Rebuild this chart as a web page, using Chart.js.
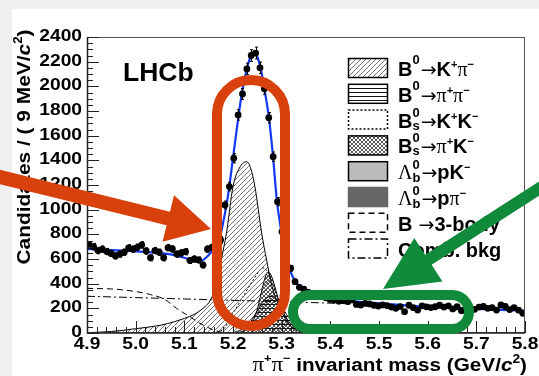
<!DOCTYPE html>
<html>
<head>
<meta charset="utf-8">
<script src="https://cdn.jsdelivr.net/npm/chart.js@4.4.1/dist/chart.umd.min.js"></script>
<style>
  html, body { margin: 0; padding: 0; background: #efefef; overflow: hidden; }
  canvas { display: block; }
</style>
</head>
<body>
<canvas id="massPlot" width="539" height="376"></canvas>
<script>
// pi+ pi- invariant mass, candidates per 9 MeV bin starting at 4.9 GeV
const binStart = 4.9;
const binWidth = 0.009;
const counts = [
  714, 700, 668, 680, 660, 645, 625, 640, 655, 690,
  680, 695, 714, 665, 610, 668, 655, 610, 692, 681,
  640, 649, 659, 588, 600, 592, 551, 680, 695, 720,
  754, 1038, 1187, 1417, 1768, 1938, 2141, 2250, 2270, 2150,
  1980, 1746, 1430, 1065, 820, 640, 525, 416, 370, 355,
  330, 310, 300, 295, 285, 272, 268, 258, 262, 255,
  268, 232, 227, 240, 236, 225, 219, 228, 222, 210,
  200, 214, 173, 225, 205, 186, 220, 212, 206, 213,
  225, 210, 220, 195, 213, 181, 200, 205, 192, 210,
  215, 200, 205, 186, 227, 215, 190, 205, 186, 160
];

// total fit (blue)
const fitMass = [4.90, 4.95, 5.00, 5.05, 5.08, 5.10, 5.115, 5.125, 5.135, 5.145,
  5.155, 5.165, 5.172, 5.18, 5.19, 5.20, 5.21, 5.218, 5.229, 5.237,
  5.243, 5.249, 5.256, 5.264, 5.274, 5.282, 5.29, 5.297, 5.305, 5.313,
  5.321, 5.33, 5.338, 5.348, 5.36, 5.38, 5.41, 5.45, 5.50, 5.55,
  5.60, 5.65, 5.70, 5.75, 5.80];
const fitTotal = [681, 672, 662, 648, 632, 610, 590, 578, 584, 612,
  655, 705, 760, 900, 1120, 1420, 1720, 1940, 2150, 2250,
  2280, 2250, 2160, 1990, 1740, 1440, 1080, 880, 690, 560,
  470, 410, 370, 340, 315, 290, 268, 256, 240, 226,
  213, 204, 196, 188, 181];

// fit components
const kpiMass = [4.90, 4.95, 5.00, 5.05, 5.08, 5.10, 5.12, 5.14, 5.15, 5.16, 5.17, 5.176, 5.1865, 5.20,
  5.215, 5.228, 5.236, 5.245, 5.259, 5.269, 5.28, 5.29, 5.30, 5.31, 5.32, 5.34, 5.37, 5.40];
const kpi = [3, 12, 35, 62, 92, 118, 150, 205, 245, 320, 440, 592, 808, 1187,
  1350, 1389, 1340, 1187, 808, 592, 380, 260, 170, 100, 55, 18, 4, 0];
const pipiMass = [5.20, 5.23, 5.25, 5.265, 5.28, 5.295, 5.31, 5.33, 5.36, 5.40];
const pipi = [0, 60, 180, 270, 300, 250, 150, 60, 10, 0];
const kkMass = [5.15, 5.18, 5.20, 5.22, 5.24, 5.262, 5.275, 5.29, 5.305, 5.32, 5.35, 5.38];
const kk = [0, 30, 160, 290, 420, 527, 470, 300, 150, 50, 5, 0];
const pikMass = [5.20, 5.22, 5.235, 5.245, 5.253, 5.26, 5.266, 5.272, 5.278, 5.285, 5.292, 5.30, 5.31, 5.32, 5.335, 5.35, 5.37];
const pik = [0, 15, 60, 130, 240, 360, 450, 495, 470, 390, 290, 200, 120, 70, 30, 10, 0];
const lbpKMass = [5.30, 5.36, 5.42, 5.48, 5.54, 5.62, 5.70, 5.80];
const lbpK = [0, 8, 14, 16, 12, 6, 2, 0];
const lbppiMass = [5.36, 5.42, 5.48, 5.55, 5.62, 5.70, 5.80];
const lbppi = [0, 4, 7, 8, 5, 2, 0];
const threeBodyMass = [4.90, 4.95, 4.975, 5.00, 5.03, 5.06, 5.084, 5.11, 5.132, 5.15, 5.16, 5.175, 5.19];
const threeBody = [362, 357, 349, 336, 312, 272, 200, 135, 79, 42, 24, 8, 0];
const combMass = [4.90, 5.00, 5.10, 5.20, 5.30, 5.40, 5.50, 5.60, 5.70, 5.80];
const comb = [298, 287, 276, 265, 254, 242, 228, 212, 196, 180];

// axes
const xTicks = [4.9, 5.0, 5.1, 5.2, 5.3, 5.4, 5.5, 5.6, 5.7, 5.8];
const xTickLabels = ['4.9', '5.0', '5.1', '5.2', '5.3', '5.4', '5.5', '5.6', '5.7', '5.8'];
const yTicks = [0, 200, 400, 600, 800, 1000, 1200, 1400, 1600, 1800, 2000, 2200, 2400];

const FB = s => `bold ${s}px "Liberation Sans"`;
const FBI = s => `italic bold ${s}px "Liberation Sans"`;
const FS = s => `${s}px "Liberation Serif"`;
const ARROW = '19px "DejaVu Sans"';

const big = t => ({ t, f: FB(20) });
const greek = t => ({ t, f: FS(20) });
const arr = { t: '→', f: ARROW, gap: 1 };
const sup = (t, dy = -12) => ({ t, f: FB(13), dy });
const sub = (t, dy = 2) => ({ t, f: FB(13), dy, stack: true });
const chg = t => ({ t, f: FB(11), dy: -8 });

const legendEntries = [
  { label: 'B0->Kpi', segs: [big('B'), sup('0'), arr, big('K'), chg('+'), greek('π'), chg('−')] },
  { label: 'B0->pipi', segs: [big('B'), sup('0'), arr, greek('π'), chg('+'), greek('π'), chg('−')] },
  { label: 'Bs->KK', segs: [big('B'), sup('0', -11), sub('s'), arr, big('K'), chg('+'), big('K'), chg('−')] },
  { label: 'Bs->piK', segs: [big('B'), sup('0', -11), sub('s'), arr, greek('π'), chg('+'), big('K'), chg('−')] },
  { label: 'Lb->pK', segs: [greek('Λ'), sup('0', -10), sub('b', 3), arr, big('p'), big('K'), chg('−')] },
  { label: 'Lb->ppi', segs: [greek('Λ'), sup('0', -10), sub('b', 3), arr, big('p'), greek('π'), chg('−')] },
  { label: '3-body', segs: [big('B'), { t: ' →', f: ARROW }, big('3-body')] },
  { label: 'comb', segs: [big('Comb. bkg')] }
];

const canvas = document.getElementById('massPlot');
const ctxMain = canvas.getContext('2d');

function tilePattern(kind) {
  const t = document.createElement('canvas');
  const s = kind === 'horiz' ? 4 : (kind === 'cross' ? 4 : 5);
  t.width = s; t.height = s;
  const g = t.getContext('2d');
  g.strokeStyle = kind === 'diag' ? '#444' : '#111';
  g.lineWidth = kind === 'cross' ? 0.7 : 0.75;
  g.beginPath();
  if (kind === 'diag' || kind === 'cross') {
    g.moveTo(-1, s + 1); g.lineTo(s + 1, -1);
    g.moveTo(-1, 1); g.lineTo(1, -1);
    g.moveTo(s - 1, s + 1); g.lineTo(s + 1, s - 1);
  }
  if (kind === 'cross') {
    g.moveTo(-1, -1); g.lineTo(s + 1, s + 1);
    g.moveTo(s - 1, -1); g.lineTo(s + 1, 1);
    g.moveTo(-1, s - 1); g.lineTo(1, s + 1);
  }
  if (kind === 'horiz') { g.lineWidth = 1; g.moveTo(0, 0.5); g.lineTo(s, 0.5); }
  g.stroke();
  return ctxMain.createPattern(t, 'repeat');
}

const xy = (m, v) => m.map((x, i) => ({ x, y: v[i] }));
const curve = (label, m, v, extra) => Object.assign({
  type: 'line', label, data: xy(m, v), borderColor: '#000', borderWidth: 1,
  pointRadius: 0, fill: false, cubicInterpolationMode: 'monotone'
}, extra);

const datasets = [
  {
    type: 'scatter', label: 'data',
    data: counts.map((c, i) => ({ x: binStart + binWidth * (i + 0.5), y: c })),
    pointRadius: 3.4, pointBackgroundColor: '#000', pointBorderWidth: 0, order: 0
  },
  curve('fit', fitMass, fitTotal, { borderColor: '#1238f2', borderWidth: 2.2, order: 1 }),
  curve('comb', combMass, comb, { borderDash: [8, 3, 2, 3], order: 2 }),
  curve('3-body', threeBodyMass, threeBody, { borderDash: [6, 4], order: 3 }),
  curve('B0->Kpi', kpiMass, kpi, { fill: 'origin', backgroundColor: tilePattern('diag'), order: 4 }),
  curve('Bs->piK', pikMass, pik, { fill: 'origin', backgroundColor: tilePattern('cross'), order: 5 }),
  curve('B0->pipi', pipiMass, pipi, { fill: 'origin', backgroundColor: tilePattern('horiz'), order: 6 }),
  curve('Bs->KK', kkMass, kk, { borderDash: [2, 2], backgroundColor: '#fff', order: 7 }),
  curve('Lb->pK', lbpKMass, lbpK, { fill: 'origin', backgroundColor: '#bbbbbb', order: 8 }),
  curve('Lb->ppi', lbppiMass, lbppi, { fill: 'origin', backgroundColor: '#666666', borderColor: '#666666', order: 9 })
];

function richText(c, segs, x, y, opts = {}) {
  const sx = opts.sx || 1, align = opts.align || 'left';
  c.save();
  c.textBaseline = 'alphabetic';
  c.textAlign = 'left';
  let prevStart = 0, prevEnd = 0;
  const pos = segs.map(s => {
    c.font = s.f;
    const w = c.measureText(s.t).width;
    let px;
    if (s.stack) { px = prevStart; prevEnd = Math.max(prevEnd, px + w); }
    else { px = prevEnd + (s.gap || 0); prevStart = px; prevEnd = px + w; }
    return px;
  });
  const width = prevEnd;
  c.translate(x, y);
  if (opts.rotate) c.rotate(opts.rotate);
  c.scale(sx, 1);
  const off = align === 'right' ? -width : align === 'center' ? -width / 2 : 0;
  segs.forEach((s, i) => {
    c.font = s.f;
    c.fillStyle = '#000';
    c.fillText(s.t, off + pos[i], s.dy || 0);
  });
  c.restore();
}

function roundRectPath(c, x, y, w, h, r) {
  c.beginPath();
  c.moveTo(x + r, y);
  c.arcTo(x + w, y, x + w, y + h, r);
  c.arcTo(x + w, y + h, x, y + h, r);
  c.arcTo(x, y + h, x, y, r);
  c.arcTo(x, y, x + w, y, r);
  c.closePath();
}

function arrow(c, sx, sy, tx, ty, shaft, headLen, headW, color) {
  const dx = tx - sx, dy = ty - sy, L = Math.hypot(dx, dy);
  const ux = dx / L, uy = dy / L, px = -uy, py = ux;
  const bx = tx - ux * headLen, by = ty - uy * headLen;
  c.beginPath();
  c.moveTo(sx + px * shaft / 2, sy + py * shaft / 2);
  c.lineTo(bx + px * shaft / 2, by + py * shaft / 2);
  c.lineTo(bx + px * headW / 2, by + py * headW / 2);
  c.lineTo(tx, ty);
  c.lineTo(bx - px * headW / 2, by - py * headW / 2);
  c.lineTo(bx - px * shaft / 2, by - py * shaft / 2);
  c.lineTo(sx - px * shaft / 2, sy - py * shaft / 2);
  c.closePath();
  c.fillStyle = color;
  c.fill();
}

const rootStyle = {
  id: 'rootStyle',
  beforeDraw(chart) {
    const c = chart.ctx;
    c.save();
    c.fillStyle = '#efefef';
    c.fillRect(0, 0, chart.width, chart.height);
    c.fillStyle = '#ffffff';
    c.fillRect(12, 9, chart.width - 12, chart.height - 9);
    c.restore();
  },
  afterDatasetsDraw(chart) {
    // statistical error bars on the data points
    const c = chart.ctx, xs = chart.scales.x, ys = chart.scales.y;
    c.save();
    c.strokeStyle = '#000';
    c.lineWidth = 1;
    c.beginPath();
    counts.forEach((n, i) => {
      const x = Math.round(xs.getPixelForValue(binStart + binWidth * (i + 0.5))) + 0.5;
      const e = Math.sqrt(n);
      const y1 = ys.getPixelForValue(n + e), y2 = ys.getPixelForValue(n - e);
      c.moveTo(x, y1); c.lineTo(x, y2);
      c.moveTo(x - 1.5, y1); c.lineTo(x + 1.5, y1);
      c.moveTo(x - 1.5, y2); c.lineTo(x + 1.5, y2);
    });
    c.stroke();
    c.restore();
  },
  afterDraw(chart) {
    const c = chart.ctx, a = chart.chartArea, xs = chart.scales.x, ys = chart.scales.y;
    c.save();

    // frame and ticks
    c.strokeStyle = '#555';
    c.lineWidth = 1;
    c.strokeRect(a.left + 0.5, a.top + 0.5, a.right - a.left - 1, a.bottom - a.top - 1);
    c.strokeStyle = '#222';
    c.beginPath();
    for (let v = 0; v <= 2400; v += 50) {
      const y = Math.round(ys.getPixelForValue(v)) + 0.5;
      c.moveTo(a.left, y); c.lineTo(a.left + (v % 200 === 0 ? 12 : 6), y);
    }
    for (let k = 0; k <= 45; k++) {
      const x = Math.round(xs.getPixelForValue(4.9 + k * 0.02)) + 0.5;
      c.moveTo(x, a.bottom); c.lineTo(x, a.bottom - (k % 5 === 0 ? 12 : 6));
    }
    c.stroke();
    c.beginPath();
    c.lineWidth = 1.5;
    c.moveTo(a.left + 0.5, a.top); c.lineTo(a.left + 0.5, a.bottom); c.lineTo(a.right, a.bottom);
    c.stroke();

    // tick labels
    yTicks.forEach(v => richText(c, [{ t: String(v), f: FB(16) }], 82, ys.getPixelForValue(v) + 4, { align: 'right', sx: 1.2 }));
    xTicks.forEach((v, i) => richText(c, [{ t: xTickLabels[i], f: FB(16) }], xs.getPixelForValue(v), 349, { align: 'center', sx: 1.2 }));

    // axis titles
    richText(c, [
      { t: 'Candidates / ( 9 MeV/', f: FB(19) }, { t: 'c', f: FBI(19) },
      { t: '2', f: FB(12), dy: -8 }, { t: ')', f: FB(19) }
    ], 30, 147, { align: 'center', rotate: -Math.PI / 2, sx: 1.1 });
    richText(c, [
      greek('π'), { t: '+', f: FB(11), dy: -9 }, greek('π'), { t: '−', f: FB(11), dy: -9 },
      { t: ' invariant mass (GeV/', f: FB(18) }, { t: 'c', f: FBI(18) },
      { t: '2', f: FB(12), dy: -8 }, { t: ')', f: FB(18) }
    ], 527, 371, { align: 'right', sx: 1.15 });

    richText(c, [{ t: 'LHCb', f: FB(25) }], 123, 81, { sx: 1.06 });

    // legend
    legendEntries.forEach((e, i) => {
      const ds = chart.data.datasets.find(d => d.label === e.label);
      const top = 58 + 25.8 * i;
      c.save();
      c.fillStyle = '#fff';
      c.fillRect(348, top, 40, 20);
      if (ds.fill) { c.fillStyle = ds.backgroundColor; c.fillRect(348, top, 40, 20); }
      c.setLineDash(ds.borderDash || []);
      c.strokeStyle = ds.borderColor;
      c.lineWidth = 1.5;
      c.strokeRect(348.5, top + 0.5, 39, 19);
      c.restore();
      richText(c, e.segs, 398, top + 18);
    });

    // highlight annotations
    c.lineWidth = 10;
    c.strokeStyle = '#d8400c';
    roundRectPath(c, 217, 80, 68, 246, 34);
    c.stroke();
    arrow(c, -20, 172, 211, 229, 14, 44, 48, '#d8400c');
    c.strokeStyle = '#118a3b';
    roundRectPath(c, 293, 295, 176, 34, 17);
    c.stroke();
    arrow(c, 560, 175, 383, 289, 12, 54, 52, '#118a3b');

    c.restore();
  }
};

new Chart(canvas, {
  type: 'line',
  data: { datasets },
  options: {
    responsive: false,
    animation: false,
    devicePixelRatio: 1,
    events: [],
    layout: { padding: { left: 87, top: 37, right: 14, bottom: 43 } },
    scales: {
      x: { type: 'linear', min: 4.9, max: 5.8, display: false },
      y: { type: 'linear', min: 0, max: 2400, display: false }
    },
    plugins: { legend: { display: false }, tooltip: { enabled: false } }
  },
  plugins: [rootStyle]
});
</script>
</body>
</html>
